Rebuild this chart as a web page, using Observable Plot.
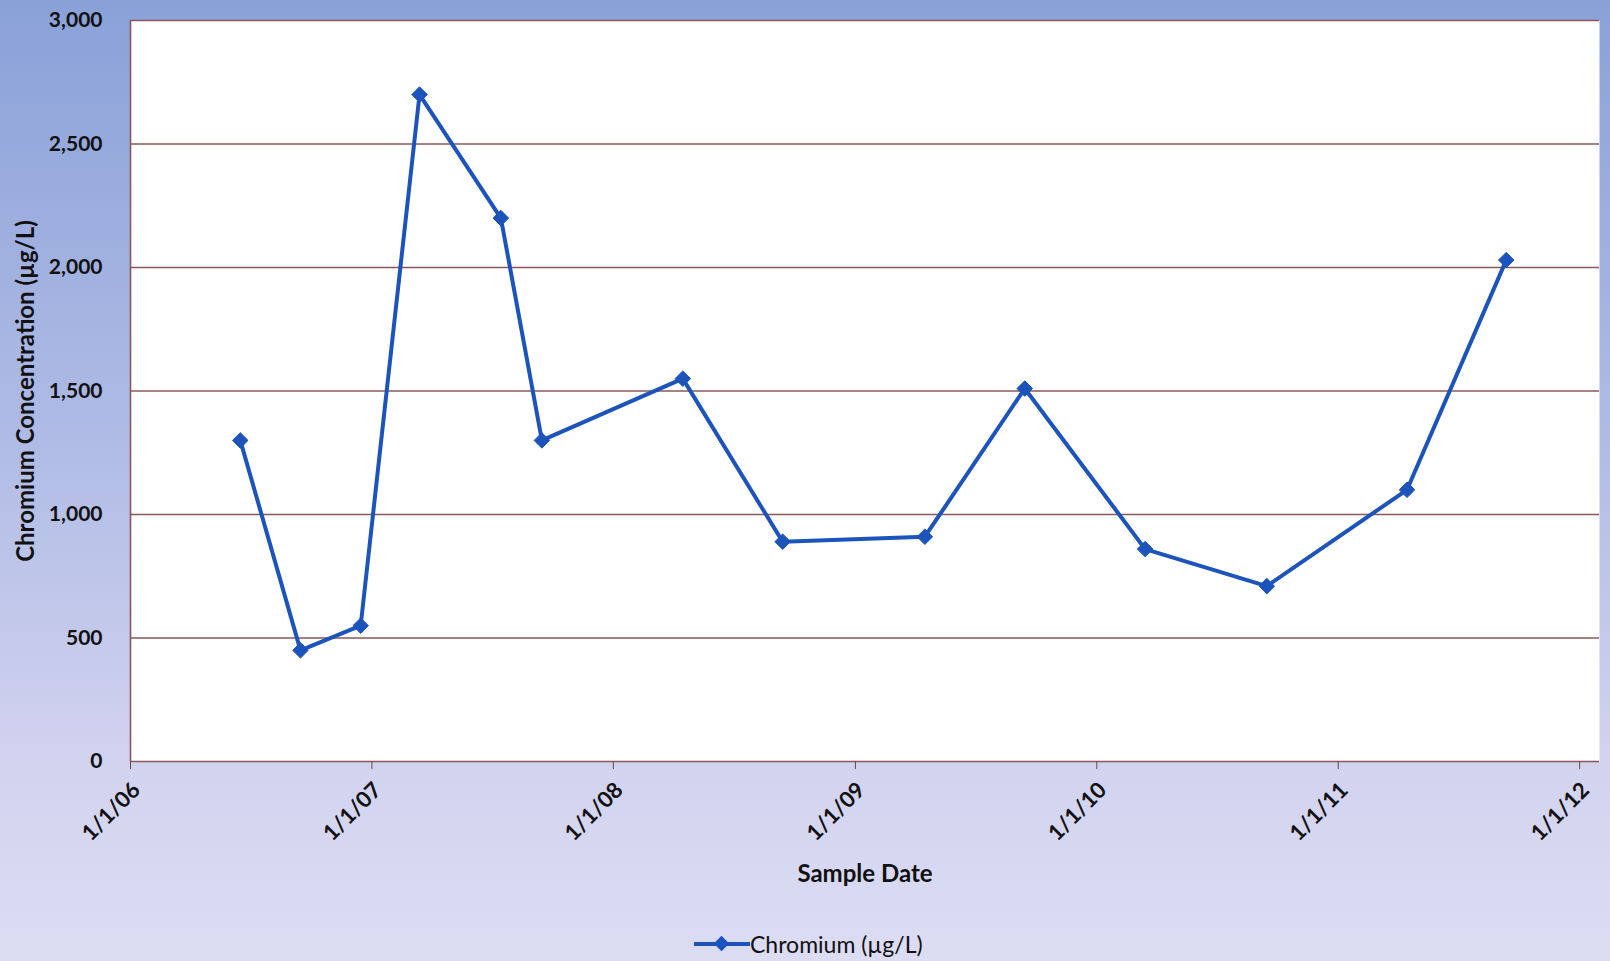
<!DOCTYPE html>
<html>
<head>
<meta charset="utf-8">
<script src="https://cdn.jsdelivr.net/npm/d3@7"></script>
<script src="https://cdn.jsdelivr.net/npm/@observablehq/plot@0.6"></script>
<style>
  html, body { margin: 0; padding: 0; }
  #page {
    position: relative; width: 1610px; height: 961px; overflow: hidden;
    background: linear-gradient(to bottom, #8aa1d8 0%, #afbbe5 45%, #d2d3ef 80%, #dcdcf3 100%);
    font-family: Lato, "Open Sans", sans-serif;
  }
  #chart svg { display: block; background: transparent; }
  #legend {
    position: absolute; left: 694px; top: 929px; height: 30px;
    display: flex; align-items: center; font-size: 23px; color: #111;
  }
  #legend .sw { position: relative; width: 56px; height: 30px; }
  #legend .sw .ln { position: absolute; left: 0; right: 0; top: 13px; height: 4px; background: #1c54bc; }
  #legend .sw .dm { position: absolute; left: 22px; top: 9px; width: 11px; height: 11px; background: #1c54bc; transform: rotate(45deg); }
</style>
</head>
<body>
<div id="page">
  <div id="chart"></div>
  <div id="legend"><div class="sw"><div class="ln"></div><div class="dm"></div></div><span>Chromium (µg/L)</span></div>
</div>
<script>
// Sample dates and chromium concentrations (µg/L)
const sampleDates = ["2006-06-16","2006-09-15","2006-12-15","2007-03-14","2007-07-15","2007-09-15",
  "2008-04-15","2008-09-13","2009-04-16","2009-09-14","2010-03-15","2010-09-15","2011-04-15","2011-09-12"];
const chromium = [1300, 450, 550, 2700, 2200, 1300, 1550, 890, 910, 1510, 860, 710, 1100, 2030];

// Axis ticks
const xTickDates = ["2006-01-01","2007-01-01","2008-01-01","2009-01-01","2010-01-01","2011-01-01","2012-01-01"];
const xTickLabels = ["1/1/06","1/1/07","1/1/08","1/1/09","1/1/10","1/1/11","1/1/12"];
const yTicks = [0, 500, 1000, 1500, 2000, 2500, 3000];
const xDomain = ["2006-01-01", "2012-01-31"];

const data = sampleDates.map((d, i) => ({date: new Date(d), value: chromium[i]}));
const xTicks = xTickDates.map(d => new Date(d));
const gridColor = "#8a5858";
const lineColor = "#1c54bc";

const chart = Plot.plot({
  width: 1610,
  height: 900,
  marginLeft: 130,
  marginTop: 20,
  marginRight: 11,
  marginBottom: 139,
  style: {fontFamily: "Lato, 'Open Sans', sans-serif", fontSize: "22px", color: "#111", background: "transparent"},
  x: {type: "utc", domain: xDomain.map(d => new Date(d))},
  y: {domain: [0, 3000]},
  marks: [
    Plot.frame({fill: "white", stroke: null}),
    Plot.ruleY(yTicks, {stroke: gridColor, strokeWidth: 1.6}),
    Plot.ruleX([new Date(xDomain[0])], {stroke: gridColor, strokeWidth: 1.6}),
    Plot.axisY({ticks: yTicks, tickFormat: d3.format(","), tickSize: 0, tickPadding: 28,
      fontWeight: "bold", fontSize: 21, label: "Chromium Concentration (µg/L)", labelAnchor: "center",
      labelArrow: "none", labelOffset: 114}),
    // tick marks only
    Plot.axisX({ticks: xTicks, tickFormat: () => "", tickSize: 8, stroke: "#6a4848", label: null}),
    // rotated tick labels + axis title
    Plot.axisX({ticks: xTicks, tickFormat: (d, i) => xTickLabels[i], tickRotate: -45, tickSize: 0,
      tickPadding: 25, dx: 6, fontWeight: "bold", label: "Sample Date",
      labelAnchor: "center", labelArrow: "none", labelOffset: 120}),
    Plot.line(data, {x: "date", y: "value", stroke: lineColor, strokeWidth: 4}),
    Plot.dot(data, {x: "date", y: "value", symbol: "diamond2", r: 7, fill: lineColor, stroke: lineColor, strokeWidth: 1})
  ]
});
// axis titles: bold and a bit larger
chart.querySelectorAll("[aria-label='y-axis label'] text, [aria-label='x-axis label'] text").forEach(t => {
  t.setAttribute("font-weight", "bold");
  t.setAttribute("font-size", "24px");
});
document.getElementById("chart").appendChild(chart);
</script>
</body>
</html>
